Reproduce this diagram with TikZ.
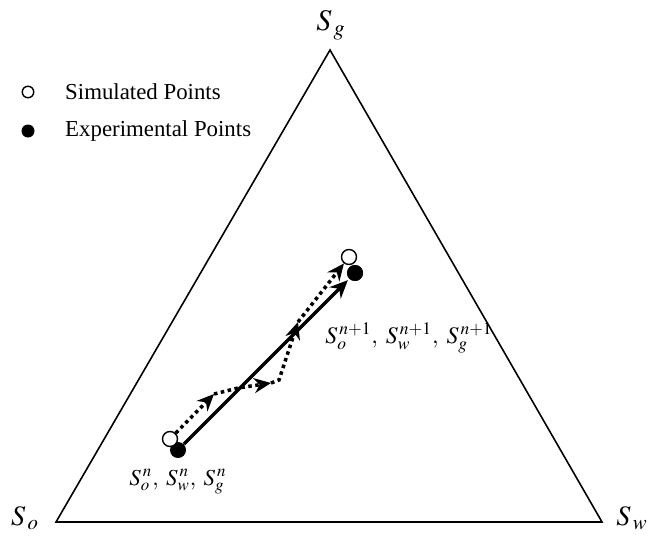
\documentclass[tikz,border=0pt]{standalone}
\usepackage{mathptmx}
\usepackage{fontspec}
\setmainfont{Liberation Serif}
\usetikzlibrary{arrows.meta,positioning}
\tikzset{
  simpt/.style={circle,draw,thick,fill=white,inner sep=0pt,minimum size=3mm},
  exppt/.style={circle,fill=black,inner sep=0pt,minimum size=3.2mm},
  legsim/.style={circle,draw,thick,inner sep=0pt,minimum size=2.3mm},
  legexp/.style={circle,fill=black,inner sep=0pt,minimum size=2.6mm},
  dotpath/.style={line width=2pt,dotted,-{Stealth[length=3.4mm,width=3mm]}},
}
\begin{document}
\begin{tikzpicture}
  \useasboundingbox (0,0) rectangle (13,10.76);
  % ternary triangle
  \draw[line width=.9pt] (1.12,.32) coordinate (o) -- (12.04,.32) coordinate (w)
    -- (6.60,9.76) coordinate (g) -- cycle;
  \node at (6.62,10.26) {\fontsize{17}{20}\selectfont$S_{\,g}$};
  \node at (.5,.4) {\fontsize{16}{19}\selectfont$S_{\,o}$};
  \node at (12.64,.4) {\fontsize{16}{19}\selectfont$S_{\,w}$};
  % legend
  \node[legsim] (lsim) at (.56,8.92) {};
  \node[legexp] (lexp) at (.56,8.14) {};
  \node[right=.62cm of lsim.center,anchor=west,font=\fontsize{13}{15}\selectfont] {Simulated Points};
  \node[right=.62cm of lexp.center,anchor=west,font=\fontsize{13}{15}\selectfont] {Experimental Points};
  % states n and n+1
  \node[exppt] (exp0) at (3.56,1.76) {};
  \node[exppt] (exp1) at (7.10,5.30) {};
  \draw[line width=2pt,-{Stealth[length=3.6mm,width=3.2mm]},shorten >=1pt] (exp0) -- (exp1);
  \coordinate (a1) at (4.28,2.88);
  \coordinate (p1) at (4.76,3.00);
  \coordinate (a2) at (5.42,3.10);
  \coordinate (p2) at (5.58,3.16);
  \coordinate (a3) at (5.96,4.32);
  \node[simpt] (sim0) at (3.40,1.98) {};
  \node[simpt] (sim1) at (6.98,5.62) {};
  \draw[dotpath] (sim0) -- (a1);
  \draw[dotpath] (a1) -- (p1) -- (a2);
  \draw[dotpath] (a2) -- (p2) -- (a3);
  \draw[dotpath] (a3) -- (sim1);
  \node[exppt] at (exp1) {};
  \node (lab0) at (3.56,1.12) {\fontsize{13}{15}\selectfont$S_o^{\,n},\;S_w^{\,n},\;S_g^{\,n}$};
  \node (lab1) at (8.18,4.0) {\fontsize{13.5}{16}\selectfont$S_o^{\,n+1},\;S_w^{\,n+1},\;S_g^{\,n+1}$};
\end{tikzpicture}
\end{document}
